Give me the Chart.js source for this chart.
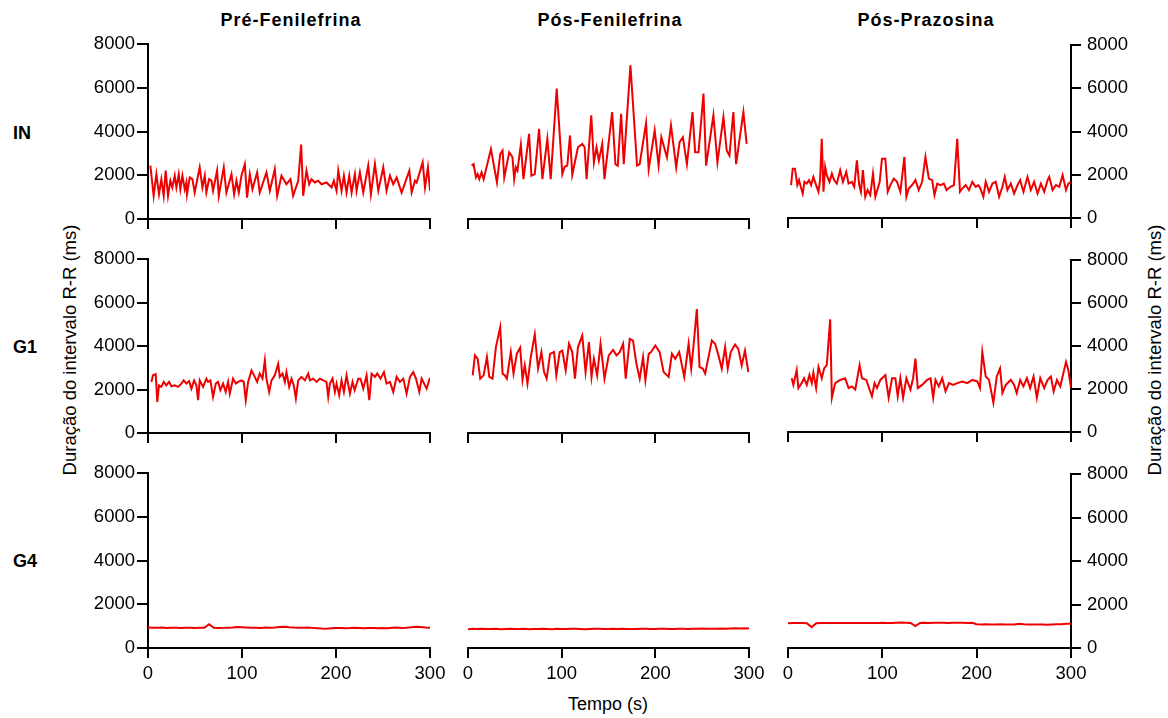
<!DOCTYPE html>
<html lang="pt">
<head>
<meta charset="utf-8">
<title>Duração do intervalo R-R</title>
<script src="https://cdn.jsdelivr.net/npm/chart.js@4.4.1/dist/chart.umd.min.js"></script>
<style>
html,body{margin:0;padding:0;background:#fff;}
body{position:relative;width:1168px;height:718px;overflow:hidden;font-family:"Liberation Sans",Arial,Helvetica,sans-serif;color:#000;}
canvas{position:absolute;}
.lbl{position:absolute;white-space:nowrap;line-height:1;transform:translate(-50%,-50%);}
.b{font-weight:bold;}
.row{position:absolute;white-space:nowrap;line-height:1;transform:translate(0,-50%);font-weight:bold;font-size:18px;}
.rot{transform:translate(-50%,-50%) rotate(-90deg);}
</style>
</head>
<body>
<div class="lbl b" style="left:291px;top:19.5px;font-size:18px;letter-spacing:1px">Pré-Fenilefrina</div>
<div class="lbl b" style="left:610px;top:19.5px;font-size:18px;letter-spacing:1px">Pós-Fenilefrina</div>
<div class="lbl b" style="left:926px;top:19.5px;font-size:18px;letter-spacing:1px">Pós-Prazosina</div>
<div class="row" style="left:13px;top:133px">IN</div>
<div class="row" style="left:13px;top:347px">G1</div>
<div class="row" style="left:13px;top:561px">G4</div>
<div class="lbl rot" style="left:70px;top:350px;font-size:18.5px">Duração do intervalo R-R (ms)</div>
<div class="lbl rot" style="left:1155px;top:350px;font-size:18.5px">Duração do intervalo R-R (ms)</div>
<div class="lbl" style="left:608px;top:704px;font-size:18px">Tempo (s)</div>
<script>
// ---- tick labels ----
const xTicks = [0, 100, 200, 300];
const yTicks = [0, 2000, 4000, 6000, 8000];

// ---- IN ----
const inPreT = [2.5,6.0,8.9,11.7,14.2,16.7,18.8,21.3,23.8,25.9,
28.4,30.2,32.7,34.4,36.6,39.1,40.8,41.5,44.4,47.2,
49.7,55.0,57.9,60.4,62.1,65.0,67.5,69.2,73.5,75.3,
80.6,83.4,88.8,91.6,94.1,96.6,99.4,103.0,105.4,108.3,
111.1,116.1,118.9,126.0,129.6,134.9,137.4,142.0,147.3,151.6,
154.4,159.8,162.9,165.1,168.6,171.5,174.0,177.5,181.1,184.6,
189.9,195.3,197.7,200.6,202.4,205.9,208.4,211.2,214.1,216.6,
220.1,221.9,225.4,229.0,234.3,237.1,241.4,245.0,250.3,253.8,
257.4,260.9,264.5,269.8,278.0,280.5,284.0,285.8,292.2,294.7,
297.8,300.0];
const inPreV = [2440,1060,2050,1130,1820,1060,2210,1060,1750,1440,
1980,1440,2050,1360,1980,1360,1670,1130,1900,1820,
1210,2360,1440,1980,1210,1820,1750,1290,2210,1060,
2360,1210,2050,1130,1750,1210,1980,2510,980,2050,
1360,2130,1210,2130,1290,2280,1060,1980,1590,1820,
1060,1750,3400,1060,2210,1590,1820,1670,1750,1590,
1670,1440,1750,1290,2210,1290,1980,1210,1980,1210,
2050,1290,2130,1210,2440,1130,2510,1290,2360,1290,
1980,1590,1900,1210,2210,1210,1750,1670,2590,1440,
2360,1290];

const inPosFenT = [3.9,6.0,8.5,10.3,12.1,14.5,16.7,24.5,30.9,34.4,
36.9,38.7,44.0,47.5,49.3,51.1,52.8,56.4,59.2,65.2,
67.7,71.3,75.9,79.4,84.7,88.3,94.7,100.7,103.2,106.0,
108.9,111.3,117.4,122.0,124.5,126.6,131.6,134.4,137.2,139.7,
143.3,145.7,153.9,157.4,159.9,163.5,166.3,173.4,180.5,183.3,
190.1,192.9,199.3,203.5,206.4,212.4,216.7,222.3,225.9,229.4,
233.7,239.7,242.5,246.1,251.4,254.2,262.0,266.3,272.7,276.2,
279.1,283.3,286.2,294.0,297.5];
const inPosFenV = [2440,2510,1900,2050,1820,2130,1820,3200,1670,2970,
3130,1900,3050,2820,1820,2360,2210,3400,1820,3890,
1980,2050,4120,1820,3660,1820,5960,2050,2390,2440,
3820,2020,3280,3430,3280,1820,4740,2590,3280,2670,
3430,1820,4890,2510,2440,4810,2510,7030,2440,2510,
4380,2280,4050,2440,3740,2820,4280,2360,3510,3740,
2510,4890,3050,3050,5730,2440,4740,2590,4660,3130,
2900,4890,2510,4890,3430];

const inPosPrazT = [3.2,5.0,7.4,9.9,11.7,13.5,15.6,17.4,19.9,22.3,
24.5,26.9,29.8,32.3,34.0,35.8,37.6,39.4,41.1,44.0,
46.5,48.9,51.8,55.3,58.2,61.7,64.2,67.7,70.2,73.0,
75.5,77.3,79.4,81.9,84.4,87.2,90.1,92.6,97.2,99.6,
103.2,105.7,108.5,112.1,115.6,119.1,123.4,125.5,128.0,131.6,
135.1,138.6,142.2,145.7,149.3,152.8,155.3,158.2,161.7,165.2,
168.1,172.3,175.9,179.4,182.3,184.7,188.3,191.8,195.4,198.9,
201.8,203.9,207.1,209.6,213.1,216.7,220.2,223.8,227.3,229.8,
232.6,236.2,239.7,243.3,246.1,249.6,253.9,257.4,260.9,264.5,
268.1,271.6,275.2,276.9,280.5,284.0,287.6,291.1,294.7,297.2,
300.0];
const inPosPrazV = [1520,2280,2280,1520,1750,1440,1130,1670,1590,1750,
1520,1900,1520,1210,1750,3660,1210,2360,1980,1670,
2050,1750,1590,2210,1670,2130,1590,1670,1440,2670,
1520,1210,2210,980,1290,1060,2050,980,1670,2740,
2740,1210,1520,1820,1670,1210,2820,980,1360,1520,
1750,1290,1670,2820,1820,1750,1060,1590,1520,1590,
1290,1440,1520,3660,1210,1360,1520,1290,1670,1440,
1520,1360,980,1670,1210,1590,1670,980,1440,1900,
1290,1590,1130,1520,1750,1210,1900,1290,1670,1130,
1590,1210,1750,1900,1290,1520,1440,1980,1290,1590,
1670];

// ---- G1 ----
const g1PreT = [3.6,5.3,8.2,9.9,11.7,14.2,16.7,19.5,22.4,24.9,
28.4,31.9,35.5,38.0,40.8,43.7,46.2,49.0,51.5,53.3,
55.0,58.6,62.1,63.9,66.4,69.2,72.1,74.6,77.0,79.9,
82.7,85.2,87.0,90.5,93.4,95.9,99.4,101.9,104.0,106.5,
110.1,113.6,116.1,118.9,121.8,124.3,126.0,128.9,131.4,134.9,
138.5,140.2,143.1,145.6,147.3,150.2,152.7,155.1,157.3,159.8,
163.3,166.9,170.4,172.2,175.7,179.3,182.8,186.4,189.9,191.7,
193.5,196.3,198.8,200.6,203.4,205.9,208.4,211.2,214.8,217.6,
219.8,223.7,226.1,229.0,232.5,235.4,237.9,241.4,243.9,247.4,
251.0,253.8,257.4,260.9,264.5,268.0,271.6,275.1,278.7,282.2,
285.1,288.6,291.1,296.4,300.0];
const g1PreV = [2350,2650,2700,1430,2190,2120,2350,2190,2350,2150,
2190,2120,2270,2420,2270,2390,2040,2420,2190,1510,
2420,2120,2500,2350,2420,1660,2270,2350,1970,2270,
1890,2350,1810,2500,2270,2350,2420,2350,1510,2350,
2880,2580,2350,2730,2500,3340,2500,1890,2420,2650,
3180,2580,2730,2350,2800,2120,2500,2190,1590,2420,
2580,2420,2730,2420,2500,2350,2500,2420,2350,1660,
2270,2500,1890,2270,1740,2420,1890,2650,1810,2350,
1970,2500,2500,2040,2650,1510,2730,2580,2730,2500,
2800,2270,2350,1890,2580,2350,2500,1810,2580,2800,
2500,1890,2500,2040,2540];

const g1PosFenT = [5.0,7.4,10.3,13.1,16.7,20.2,22.7,26.2,29.8,34.4,
36.9,39.4,41.5,45.7,48.6,52.1,55.7,58.2,60.6,63.5,
67.0,71.3,74.8,78.4,81.2,84.0,87.6,91.8,94.3,97.9,
100.7,104.3,107.8,111.3,114.2,117.4,122.0,125.5,129.1,131.9,
134.4,137.9,141.5,145.7,150.3,154.9,158.5,162.0,165.6,168.4,
172.7,176.2,179.8,183.3,186.9,189.4,192.9,195.4,200.0,204.6,
208.9,214.2,217.7,221.3,225.5,230.9,235.5,238.3,240.8,244.3,
247.2,250.7,253.2,260.3,263.8,267.4,270.9,274.5,277.3,280.5,
285.1,288.6,292.2,295.7,299.3];
const g1PosFenV = [2650,3570,3410,2500,2650,3490,2580,2500,3950,4860,
2730,2650,2500,3720,2730,3640,3920,2450,3110,2270,
3490,4530,2960,3720,2800,2500,3640,3720,2650,3720,
3790,2880,4100,3720,2500,3950,4480,2800,4180,2580,
3410,2650,4100,2500,3570,3820,3570,3720,4100,2500,
4330,4250,3180,2500,3490,2420,3640,3720,4020,3720,
2800,2580,3640,3410,3720,2580,4100,2960,4020,5700,
3030,2960,2730,4250,4100,3570,2960,3950,2960,3720,
4070,3870,3110,3790,2800];

const g1PosPrazT = [3.9,5.7,9.2,11.0,14.5,17.0,19.9,22.7,25.2,26.9,
29.8,32.3,35.8,38.3,41.1,44.7,46.5,50.0,55.3,60.6,
64.2,67.7,71.3,75.9,78.4,83.0,86.5,89.0,91.8,94.3,
97.9,103.2,106.7,110.3,113.8,116.3,119.1,122.0,125.5,129.8,
132.6,135.1,137.6,142.2,147.5,151.1,153.9,156.4,159.9,163.5,
167.0,170.6,175.2,179.4,184.7,190.1,195.4,200.7,203.5,206.0,
209.6,213.1,217.7,221.3,224.8,227.3,230.9,236.2,239.7,242.5,
246.1,249.6,253.2,256.7,260.3,263.8,267.4,271.6,275.2,278.7,
281.6,285.1,288.6,291.1,294.7,297.2,300.0];
const g1PosPrazV = [2500,2190,2880,2040,2270,2500,2190,2650,2270,2760,
2040,3030,2500,2960,3110,5240,1590,2270,2420,2500,
2040,2120,1970,3110,2500,2420,1970,1660,2270,2040,
2420,2650,1590,2500,2500,1660,2500,1590,2500,1970,
2500,3410,2040,2190,2420,2500,1590,2420,2120,2500,
1890,2270,2190,2270,2350,2270,2420,2350,2040,3720,
2580,2420,1360,2580,2960,1810,2190,2420,2190,1810,
2420,2120,2500,2040,2580,1590,2500,2040,2420,2580,
1890,2420,2120,2580,3260,2880,2040];

// ---- G4 ----
const g4T = [0,5,10,15,20,25,30,35,40,45,
50,55,60,65,70,75,80,85,90,95,
100,105,110,115,120,125,130,135,140,145,
150,155,160,165,170,175,180,185,190,195,
200,205,210,215,220,225,230,235,240,245,
250,255,260,265,270,275,280,285,290,295,
300];
const g4PreV = [940,930,925,935,920,930,925,915,930,925,
920,930,925,1090,925,915,920,930,935,955,
945,935,925,930,920,935,930,940,960,975,
945,935,930,925,935,920,905,890,885,900,
910,915,905,910,920,915,905,915,910,900,
910,905,925,940,915,930,950,975,955,935,
930];
const g4PosFenV = [860,875,865,880,870,865,875,860,870,880,
865,870,875,860,870,865,880,870,860,875,
870,865,880,875,870,860,870,880,875,865,
870,875,870,880,870,865,870,875,880,870,
865,875,880,870,865,875,880,870,875,880,
890,880,875,885,890,880,895,900,890,905,
895];
const g4PosPrazV = [1140,1150,1145,1150,1140,960,1140,1150,1145,1150,
1155,1150,1145,1150,1155,1150,1145,1150,1155,1150,
1160,1155,1150,1160,1170,1160,1150,1010,1150,1160,
1155,1160,1165,1160,1155,1160,1165,1160,1155,1160,
1090,1085,1090,1080,1085,1090,1085,1080,1085,1110,
1090,1085,1080,1085,1080,1075,1085,1090,1095,1110,
1115];

// ---- layout ----
const FONT = '"Liberation Sans", Arial, Helvetica, sans-serif';
const RED = 'rgb(238,0,0)';
const panels = [
  [[inPreT, inPreV], [inPosFenT, inPosFenV], [inPosPrazT, inPosPrazV]],
  [[g1PreT, g1PreV], [g1PosFenT, g1PosFenV], [g1PosPrazT, g1PosPrazV]],
  [[g4T, g4PreV], [g4T, g4PosFenV], [g4T, g4PosPrazV]]
];
const colEdges = [[148, 430], [468, 749], [788, 1071]];
const rowEdges = [[44, 219], [259, 433], [473, 648]];

panels.forEach((row, r) => row.forEach(([T, V], c) => {
  const [x0, x1] = colEdges[c], [y0, y1] = rowEdges[r];
  const L = c === 0 ? 80 : 24, R = c === 2 ? 80 : 24, TP = 16, B = r === 2 ? 44 : 16;
  const W = x1 - x0 + L + R, H = y1 - y0 + TP + B;
  const cv = document.createElement('canvas');
  cv.width = W; cv.height = H;
  cv.style.left = (x0 - L) + 'px'; cv.style.top = (y0 - TP) + 'px';
  cv.style.width = W + 'px'; cv.style.height = H + 'px';
  document.body.appendChild(cv);
  new Chart(cv, {
    type: 'line',
    data: { datasets: [{ data: T.map((t, i) => ({ x: t, y: V[i] })), borderColor: RED, borderWidth: 2, pointRadius: 0, tension: 0, fill: false }] },
    options: {
      responsive: false, animation: false, devicePixelRatio: 1, events: [],
      layout: { padding: { left: c === 0 ? 0 : L, right: c === 2 ? 0 : R, top: TP, bottom: 0 } },
      plugins: { legend: { display: false }, tooltip: { enabled: false } },
      scales: {
        x: {
          type: 'linear', min: 0, max: 300,
          afterBuildTicks: s => { s.ticks = xTicks.map(v => ({ value: v })); },
          ticks: { display: r === 2, font: { family: FONT, size: 18.5 }, color: '#000', padding: 5, maxRotation: 0, autoSkip: false, callback: v => String(v) },
          grid: { drawOnChartArea: false, drawTicks: true, tickLength: 10, color: '#000', lineWidth: 2 },
          border: { display: true, color: '#000', width: 2 },
          afterFit: s => { s.height = B; }
        },
        y: {
          type: 'linear', display: c !== 1, position: c === 2 ? 'right' : 'left', min: 0, max: 8000,
          afterBuildTicks: s => { s.ticks = yTicks.map(v => ({ value: v })); },
          ticks: { font: { family: FONT, size: 18.5 }, color: '#000', padding: c === 2 ? 6 : 2, callback: v => String(v) },
          grid: { drawOnChartArea: false, drawTicks: true, tickLength: c === 2 ? 10 : 11, color: '#000', lineWidth: 2 },
          border: { display: true, color: '#000', width: 2 },
          afterFit: s => { s.width = c === 1 ? 0 : (c === 0 ? L : R); }
        }
      }
    }
  });
}));
</script>
</body>
</html>
